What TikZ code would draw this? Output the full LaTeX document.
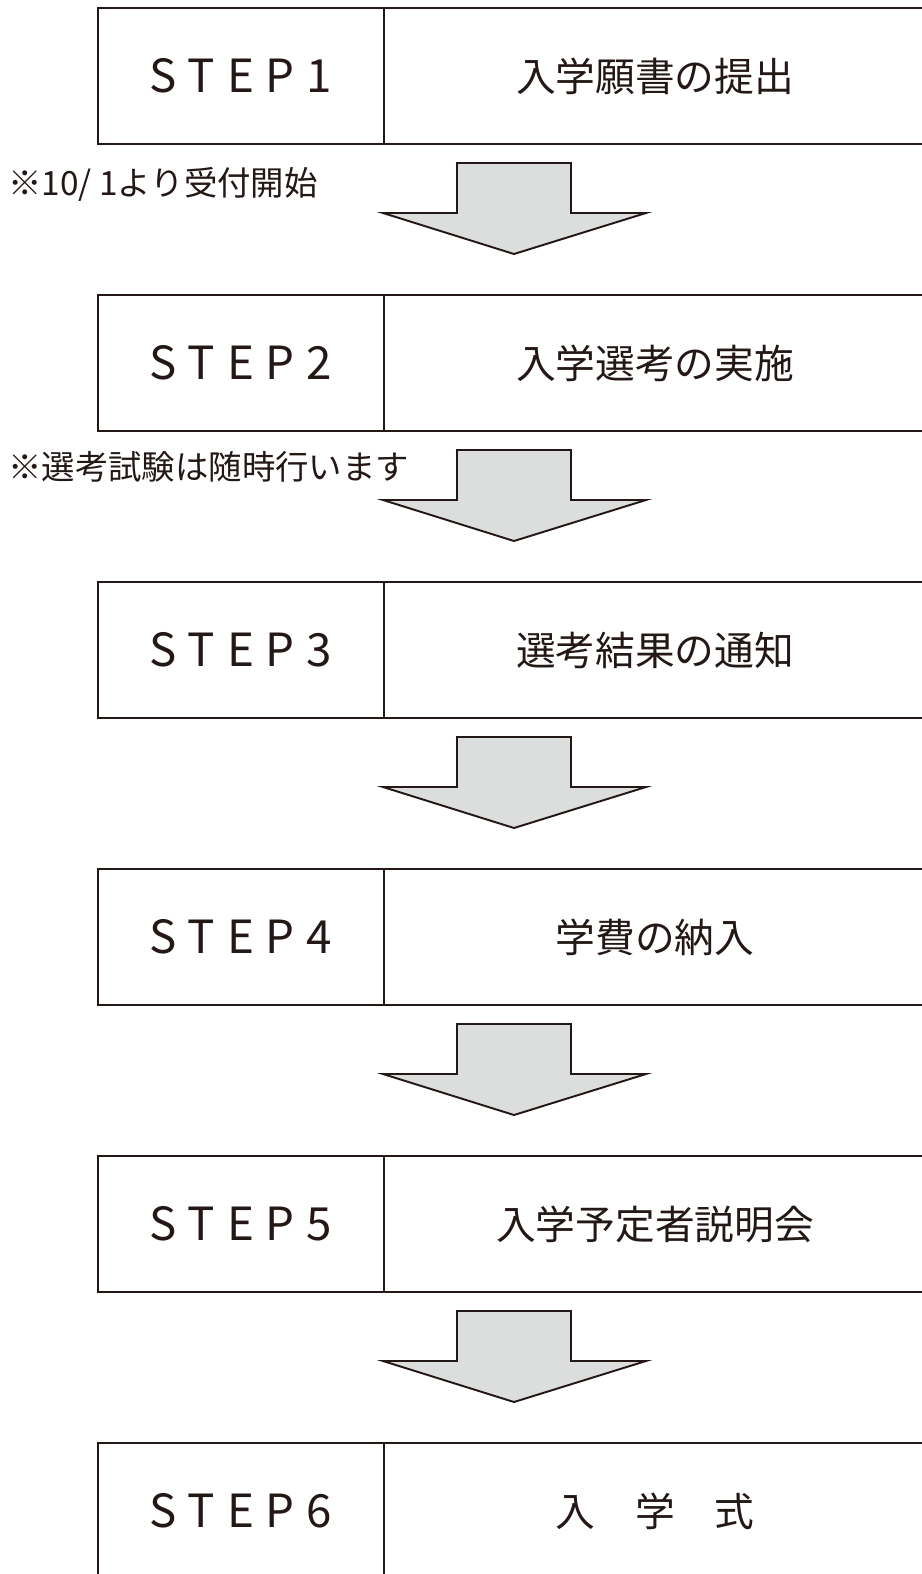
\documentclass[tikz,border=0pt]{standalone}
\usepackage{fontspec}
\setmainfont{Noto Sans CJK JP}
\usetikzlibrary{positioning,calc}
\definecolor{ink}{HTML}{231815}
\definecolor{arrowgray}{HTML}{DCDEDD}

\begin{document}
\begin{tikzpicture}[
    cell/.style={draw=ink, line width=1.1pt, minimum height=2.72cm, inner sep=0pt, outer sep=0pt, text=ink},
    stepcell/.style={cell, minimum width=5.72cm, font=\fontsize{26}{26}\selectfont\addfontfeature{LetterSpace=26}},
    titlecell/.style={cell, minimum width=10.84cm, font=\fontsize{22.6}{22.6}\selectfont},
    note/.style={anchor=west, inner sep=0pt, text=ink, font=\fontsize{19}{19}\selectfont},
    downarrow/.style={draw=ink, fill=arrowgray, line width=1.1pt, line join=miter}
]
    \useasboundingbox (0, 0) rectangle (18.44, -31.48);
    \clip (0, 0) rectangle (18.44, -31.48);
    \foreach \title [count=\i] in {入学願書の提出, 入学選考の実施, 選考結果の通知, 学費の納入, 入学予定者説明会, 入\hspace{1em}学\hspace{1em}式} {
        \node[stepcell] (s\i) at (4.82, {-1.52-5.74*(\i-1)}) {STEP\i};
        \node[titlecell, right=0pt of s\i] (t\i) {\title};
    }
    \foreach \i in {1, ..., 5} {
        \coordinate (a\i) at ($(t\i.south west)+(2.6, 0)$);
        \draw[downarrow] ([shift={(-1.14, -0.38)}]a\i) -- ([shift={(-1.14, -1.38)}]a\i)
            -- ([shift={(-2.62, -1.38)}]a\i) -- ([shift={(0, -2.2)}]a\i)
            -- ([shift={(2.64, -1.38)}]a\i) -- ([shift={(1.14, -1.38)}]a\i)
            -- ([shift={(1.14, -0.38)}]a\i) -- cycle;
    }
    \node[note] (n1) at ($(s1.south west)+(-1.8, -0.8)$) {※10/ 1より受付開始};
    \node[note] (n2) at ($(s2.south west)+(-1.8, -0.72)$) {※選考試験は随時行います};
\end{tikzpicture}
\end{document}
